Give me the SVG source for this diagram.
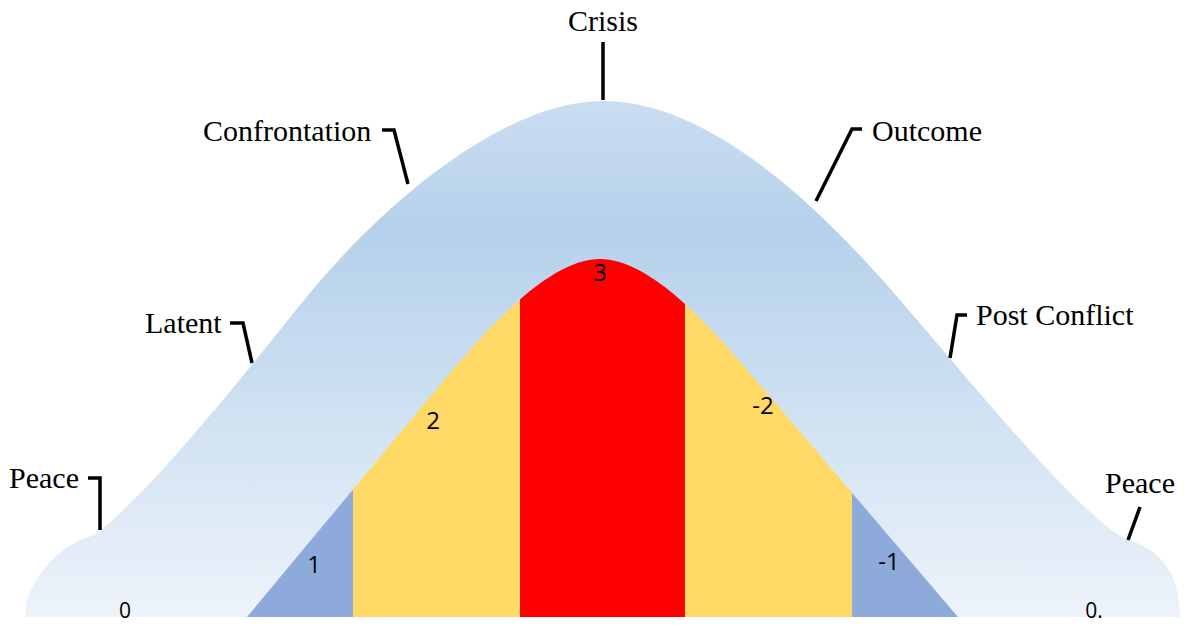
<svg xmlns="http://www.w3.org/2000/svg" width="1188" height="625" viewBox="0 0 1188 625">
<defs>
<linearGradient id="bellGrad" x1="0" y1="101" x2="0" y2="617" gradientUnits="userSpaceOnUse">
<stop offset="0" stop-color="#cbddf1"/>
<stop offset="0.25" stop-color="#b5d1eb"/>
<stop offset="1" stop-color="#edf3fa"/>
</linearGradient>
<clipPath id="innerClip">
<path d="M 247,617 L 440,385 C 490,325 550,259 600,259 C 650,259 710,325 760,385 L 958,617 Z"/>
</clipPath>
</defs>
<style>
.lbl{font-family:"Liberation Serif","Times New Roman",serif;font-size:30px;fill:#000}
.num{font-family:"Open Sans","DejaVu Sans",sans-serif;font-size:24px;fill:#000;text-anchor:middle}
.tick{fill:none;stroke:#000;stroke-width:3.5;stroke-linejoin:miter}
</style>
<rect width="1188" height="625" fill="#fff"/>
<g id="bell">
<path d="M 25,617 C 25,585 55,545 95,535
C 155,487 240,380 300,305
C 380,205 503,101 603,101
C 713,101 825,213 900,300
C 970,381 1083,520 1128,540
C 1165,550 1180,580 1180,617 Z" fill="url(#bellGrad)"/>
</g>
<g id="inner" clip-path="url(#innerClip)">
<rect x="240" y="250" width="113" height="370" fill="#8eaadb"/>
<rect x="353" y="250" width="167" height="370" fill="#ffd966"/>
<rect x="520" y="250" width="165" height="370" fill="#ff0000"/>
<rect x="685" y="250" width="167" height="370" fill="#ffd966"/>
<rect x="852" y="250" width="110" height="370" fill="#8eaadb"/>
</g>
<g id="connectors">
<path class="tick" d="M 603,42 L 603,100"/>
<path class="tick" d="M 382,130 L 394,130 L 408,184"/>
<path class="tick" d="M 862,129 L 852,129 L 816,201"/>
<path class="tick" d="M 230,323 L 243,323 L 252,363"/>
<path class="tick" d="M 967,315 L 957,315 L 950,358"/>
<path class="tick" d="M 88,478 L 100,478 L 100,530"/>
<path class="tick" d="M 1140,507 L 1128,540"/>
</g>
<g id="label-crisis"><text class="lbl" x="603" y="31" text-anchor="middle">Crisis</text></g>
<g id="label-confrontation"><text class="lbl" x="203" y="141">Confrontation</text></g>
<g id="label-outcome"><text class="lbl" x="872" y="141">Outcome</text></g>
<g id="label-latent"><text class="lbl" x="145" y="333">Latent</text></g>
<g id="label-postconflict"><text class="lbl" x="976" y="325">Post Conflict</text></g>
<g id="label-peace-left"><text class="lbl" x="9" y="488">Peace</text></g>
<g id="label-peace-right"><text class="lbl" x="1105" y="493">Peace</text></g>
<g id="numbers">
<text class="num" x="600" y="281">3</text>
<text class="num" x="433" y="429">2</text>
<text class="num" x="763" y="414">-2</text>
<text class="num" x="314" y="573">1</text>
<text class="num" x="889" y="570">-1</text>
<text class="num" x="125" y="618" style="font-size:21px">0</text>
<text class="num" x="1094" y="618" style="font-size:21px">0.</text>
</g>
</svg>
